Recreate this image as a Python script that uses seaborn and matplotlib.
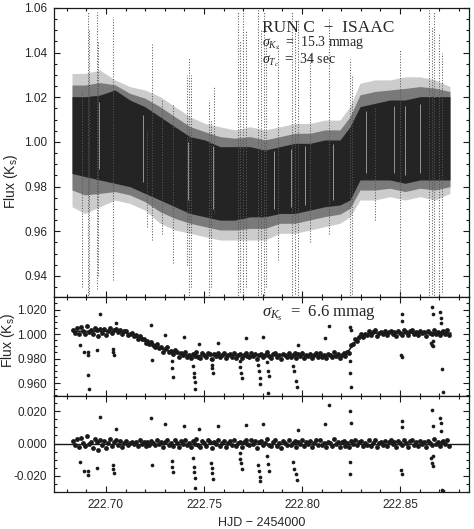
import numpy as np
import pandas as pd
import matplotlib
matplotlib.use('Agg')
import matplotlib.pyplot as plt
import seaborn as sns
from matplotlib.ticker import MultipleLocator, FormatStrFormatter

# ---------------- top panel : unbinned ISAAC photometry ----------------
# the point cloud is too dense to read point by point, so it is kept as the
# envelopes of the dense core, a shoulder and the sparse halo
top_t = [222.6827, 222.6893, 222.6969, 222.7046, 222.7122, 222.7199, 222.7276,
         222.7352, 222.7429, 222.7505, 222.7582, 222.7658, 222.7735, 222.7811,
         222.7888, 222.7964, 222.8041, 222.8117, 222.8194, 222.8245, 222.8296,
         222.8372, 222.8449, 222.8526, 222.8602, 222.8679, 222.8755]
core_hi = [1.0203, 1.0203, 1.0210, 1.0233, 1.0188, 1.0158, 1.0113, 1.0068, 1.0024,
           1.0009, 0.9979, 0.9979, 0.9979, 0.9964, 0.9979, 0.9994, 0.9994, 1.0009,
           1.0009, 1.0068, 1.0158, 1.0173, 1.0188, 1.0188, 1.0203, 1.0203, 1.0203]
core_lo = [0.9859, 0.9845, 0.9830, 0.9815, 0.9800, 0.9770, 0.9740, 0.9710, 0.9680,
           0.9665, 0.9650, 0.9650, 0.9665, 0.9665, 0.9680, 0.9680, 0.9695, 0.9710,
           0.9718, 0.9740, 0.9830, 0.9830, 0.9830, 0.9815, 0.9830, 0.9830, 0.9830]
shoulder_hi = [1.0255, 1.0255, 1.0266, 1.0256, 1.0218, 1.0196, 1.0158, 1.0113, 1.0069,
               1.0046, 1.0024, 1.0017, 1.0024, 1.0009, 1.0024, 1.0039, 1.0039, 1.0054,
               1.0054, 1.0113, 1.0211, 1.0226, 1.0233, 1.0240, 1.0248, 1.0241, 1.0226]
shoulder_lo = [0.9785, 0.9763, 0.9770, 0.9778, 0.9763, 0.9733, 0.9688, 0.9658, 0.9636,
               0.9621, 0.9606, 0.9606, 0.9613, 0.9613, 0.9636, 0.9636, 0.9651, 0.9666,
               0.9677, 0.9703, 0.9785, 0.9785, 0.9793, 0.9778, 0.9793, 0.9785, 0.9800]
halo_hi = [1.0307, 1.0307, 1.0322, 1.0278, 1.0248, 1.0233, 1.0203, 1.0158, 1.0113,
           1.0083, 1.0068, 1.0054, 1.0068, 1.0054, 1.0068, 1.0083, 1.0083, 1.0098,
           1.0098, 1.0158, 1.0263, 1.0278, 1.0278, 1.0292, 1.0292, 1.0278, 1.0248]
halo_lo = [0.9710, 0.9680, 0.9710, 0.9740, 0.9725, 0.9695, 0.9636, 0.9606, 0.9591,
           0.9576, 0.9561, 0.9561, 0.9561, 0.9561, 0.9591, 0.9591, 0.9606, 0.9621,
           0.9636, 0.9665, 0.9740, 0.9740, 0.9755, 0.9740, 0.9755, 0.9740, 0.9770]

# vertical streaks of bad frames: time, lowest and highest point
streak_t = [222.6876, 222.6909, 222.6915, 222.6955, 222.6962, 222.7037, 222.7208,
            222.7233, 222.7284, 222.7344, 222.7412, 222.7425, 222.7432, 222.7527,
            222.7537, 222.7551, 222.7672, 222.7685, 222.7700, 222.7715, 222.7775,
            222.7790, 222.7805, 222.7818, 222.7880, 222.7950, 222.7965, 222.7980,
            222.8040, 222.8136, 222.8244, 222.8254, 222.8375, 222.8502, 222.8650,
            222.8662, 222.8672, 222.8700, 222.8712]
streak_hi = [1.023, 1.058, 1.050, 1.058, 1.045, 1.056, 1.005, 1.044, 1.019, 1.017,
             1.030, 1.038, 1.030, 1.019, 1.010, 1.025, 1.058, 1.045, 1.058, 1.050,
             1.059, 1.050, 1.058, 1.045, 1.044, 1.058, 1.050, 1.055, 1.040, 1.055,
             1.037, 1.030, 1.015, 1.041, 1.059, 1.052, 1.058, 1.049, 1.040]
streak_lo = [0.935, 0.930, 0.932, 0.934, 0.940, 0.938, 0.962, 0.956, 0.959, 0.946,
             0.945, 0.930, 0.935, 0.930, 0.935, 0.968, 0.930, 0.933, 0.930, 0.935,
             0.930, 0.932, 0.930, 0.935, 0.947, 0.930, 0.932, 0.930, 0.955, 0.959,
             0.930, 0.932, 0.965, 0.930, 0.930, 0.932, 0.930, 0.930, 0.933]

# short time gaps showing as white lines through the dense band
gap_t = [222.6966, 222.7190, 222.7418, 222.7546, 222.7857, 222.7944, 222.8014,
         222.8160, 222.8327, 222.8468, 222.8526, 222.8600]
gap_lo = [0.988, 0.982, 0.974, 0.970, 0.970, 0.971, 0.972, 0.974, 0.986, 0.986,
          0.985, 0.986]
gap_hi = [1.018, 1.012, 1.000, 0.998, 0.996, 0.997, 0.998, 0.999, 1.014, 1.016,
          1.016, 1.017]

# ---------------- binned light curve and residuals ----------------
# time in units of 1e-4 d after HJD 2454222.68, flux and residual in ppt
bin_tt = [32, 42, 52, 62, 72, 82, 92, 102, 112, 122,
          132, 142, 152, 162, 172, 182, 192, 202, 212, 222,
          232, 242, 252, 262, 272, 282, 292, 302, 312, 322,
          332, 342, 352, 362, 372, 382, 392, 402, 412, 422,
          432, 442, 452, 462, 472, 482, 492, 502, 512, 522,
          532, 542, 552, 562, 572, 582, 592, 602, 612, 622,
          632, 642, 652, 662, 672, 682, 692, 702, 712, 722,
          732, 742, 752, 762, 772, 782, 792, 802, 812, 822,
          832, 842, 852, 862, 872, 882, 892, 902, 912, 922,
          932, 942, 952, 962, 972, 982, 992, 1002, 1012, 1022,
          1032, 1042, 1052, 1062, 1072, 1082, 1092, 1102, 1112, 1122,
          1132, 1142, 1152, 1162, 1172, 1182, 1192, 1202, 1212, 1222,
          1232, 1242, 1252, 1262, 1272, 1282, 1292, 1302, 1312, 1322,
          1332, 1342, 1352, 1362, 1372, 1382, 1392, 1402, 1412, 1422,
          1432, 1442, 1452, 1462, 1472, 1482, 1492, 1502, 1512, 1522,
          1532, 1542, 1552, 1562, 1572, 1582, 1592, 1602, 1612, 1622,
          1632, 1642, 1652, 1662, 1672, 1682, 1692, 1702, 1712, 1722,
          1732, 1742, 1752, 1762, 1772, 1782, 1792, 1802, 1812, 1822,
          1832, 1842, 1852, 1862, 1872, 1882, 1892, 1902, 1912, 1922,
          1932, 1942, 1952]
bin_flux = [3.7, 1.2, 5.0, 0.0, 5.7, 2.4, 0.4, 6.7, 1.7, 3.4,
            -0.3, 5.2, 3.0, -1.8, 4.2, 1.0, 4.0, -0.8, 2.7, 4.8,
            0.7, 3.2, 4.4, 1.4, 3.5, -0.2, 2.1, 2.8, -0.5, 0.3,
            0.6, -1.6, -0.9, -3.9, -1.2, -4.4, -3.9, -7.6, -5.9, -8.3,
            -6.6, -8.8, -10.9, -8.1, -11.6, -10.9, -14.3, -11.8, -10.9, -14.5,
            -14.0, -16.4, -13.3, -15.0, -18.4, -15.1, -16.9, -14.9, -18.3, -16.9,
            -19.4, -16.1, -17.5, -14.9, -18.3, -19.7, -15.8, -17.1, -18.8, -15.5,
            -16.6, -20.1, -16.3, -17.9, -15.3, -19.0, -16.9, -15.7, -19.6, -17.3,
            -16.0, -18.4, -15.1, -19.2, -17.2, -16.4, -19.8, -16.7, -15.6, -18.1,
            -18.7, -15.4, -17.7, -16.1, -20.3, -16.8, -15.9, -18.5, -17.1, -15.0,
            -18.2, -19.3, -16.5, -15.3, -18.9, -17.0, -20.0, -16.2, -17.4, -18.4,
            -15.5, -18.6, -16.9, -15.8, -19.5, -16.6, -17.8, -15.1, -19.1, -16.7,
            -18.0, -16.0, -19.7, -17.2, -15.6, -18.7, -15.4, -18.3, -16.9, -19.4,
            -16.4, -17.1, -19.0, -14.9, -18.1, -16.3, -19.5, -16.8, -15.7, -17.8,
            -14.6, -15.2, -8.9, -8.3, -4.0, -5.4, -2.0, -0.3, -2.6, 0.3,
            -0.6, 2.4, -0.6, 1.4, 3.1, -1.3, 1.2, 2.0, -0.1, 2.5,
            -0.8, 1.6, 2.8, 0.4, 1.9, -1.4, 2.3, 1.0, -0.4, 3.2,
            1.4, -1.1, 2.1, 2.9, 0.1, 1.7, -0.7, 2.6, 0.6, 1.8,
            -1.2, 2.2, 1.1, -0.3, 3.3, 0.2, 2.0, -0.9, 1.6, 2.4,
            0.4, 3.0, -0.5]
bin_resid = [1.5, -1.0, 2.8, -2.2, 3.5, 0.2, -1.8, 4.5, -0.5, 1.2,
             -2.5, 3.0, 0.8, -4.0, 2.0, -1.2, 1.8, -3.0, 0.5, 2.6,
             -1.5, 1.0, 2.2, -0.8, 1.5, -2.0, 0.6, 1.8, -1.0, 0.4,
             1.2, -0.6, 0.9, -1.4, 2.0, -0.3, 1.1, -1.8, 0.7, -0.9,
             1.6, 0.2, -1.2, 2.3, -0.5, 0.8, -2.0, 1.0, 2.4, -0.7,
             0.3, -1.6, 1.9, 0.6, -2.4, 1.3, -0.2, 2.1, -1.1, 0.5,
             -1.9, 1.4, 0.0, 2.6, -0.8, -2.2, 1.7, 0.4, -1.3, 2.0,
             0.9, -2.6, 1.2, -0.4, 2.2, -1.5, 0.6, 1.8, -2.1, 0.2,
             1.5, -0.9, 2.4, -1.7, 0.3, 1.1, -2.3, 0.8, 1.9, -0.6,
             -1.2, 2.1, -0.2, 1.4, -2.8, 0.7, 1.6, -1.0, 0.4, 2.5,
             -0.7, -1.8, 1.0, 2.2, -1.4, 0.5, -2.5, 1.3, 0.1, -0.9,
             2.0, -1.1, 0.6, 1.7, -2.0, 0.9, -0.3, 2.4, -1.6, 0.8,
             -0.5, 1.5, -2.2, 0.3, 1.9, -1.2, 2.1, -0.8, 0.6, -1.9,
             1.1, 0.4, -1.5, 2.6, -0.6, 1.2, -2.0, 0.7, 1.8, -1.3,
             0.2, -2.4, 1.6, -0.1, 2.2, -1.0, 0.9, 1.4, -1.8, 0.5,
             -0.8, 1.9, -1.4, 0.6, 2.3, -2.1, 0.4, 1.2, -0.9, 1.7,
             -1.6, 0.8, 2.0, -0.4, 1.1, -2.2, 1.5, 0.2, -1.2, 2.4,
             0.6, -1.9, 1.3, 2.1, -0.7, 0.9, -1.5, 1.8, -0.2, 1.0,
             -2.0, 1.4, 0.3, -1.1, 2.5, -0.6, 1.2, -1.7, 0.8, 1.6,
             -0.4, 2.2, -1.3]

# outlying binned points (same units)
out_tt = [66, 88, 108, 111, 110, 112, 153, 169, 236, 238, 240, 250, 432, 435,
          500, 537, 539, 541, 598, 646, 648, 650, 652, 654, 675, 738, 740, 742,
          744, 770, 882, 886, 890, 894, 916, 976, 980, 984, 988, 1000, 1022, 1026,
          1030, 1029, 1154, 1160, 1168, 1176, 1182, 1320, 1337, 1444, 1446, 1448,
          1447, 1449, 1706, 1708, 1709, 1711, 1858, 1862, 1864, 1866, 1867, 1870,
          1906, 1908, 1910, 1914, 1918]
out_flux = [-9.0, -15.0, -15.0, -17.0, -33.3, -45.0, -13.0, 16.3, -12.0, -15.0,
            -17.0, 9.4, 7.2, -21.5, -1.0, -22.3, -27.5, -34.7, -2.5, -26.4, -32.0,
            -35.0, -39.0, -45.0, -8.0, -20.0, -25.0, -28.0, -31.5, -7.0, -22.0,
            -27.0, -32.0, -36.0, -3.0, -25.0, -30.0, -36.0, -41.0, -2.0, -23.0,
            -30.0, -34.0, -48.4, -26.0, -30.0, -38.0, -43.0, -9.0, -3.0, 6.6,
            -22.0, -32.0, -43.0, 5.8, 3.0, -17.0, 16.3, -18.5, 10.7, -7.0, -9.0,
            21.8, -6.0, 16.3, -10.0, 18.0, 13.0, 9.0, -28.3, -47.4]
out_resid = [-11.2, -17.0, -17.2, -19.2, -35.5, -47.2, -15.0, 16.5, -13.0, -16.0,
             -18.5, 9.0, 15.5, -13.5, 12.0, -11.0, -14.5, -17.5, 11.0, -9.0, -14.5,
             -17.5, -21.5, -27.5, 9.0, -12.0, -15.0, -18.0, -22.0, 11.0, -6.0,
             -9.5, -12.0, -16.0, 11.5, -13.0, -17.0, -20.5, -23.5, 12.0, -8.0,
             -12.5, -17.0, -31.5, -11.5, -15.5, -19.0, -22.5, 8.5, 12.0, 24.0,
             -11.5, -19.0, -31.0, 20.0, 12.5, -16.5, 14.0, -19.0, 10.0, -9.0,
             -12.0, 21.0, -8.0, 11.0, -14.0, 16.0, 12.5, 8.0, -29.0, -29.5]

# transit model (knots)
model_tt = [32, 262, 292, 322, 352, 382, 412, 442, 472, 502, 532, 562, 592, 622,
            650, 1412, 1422, 1442, 1462, 1482, 1502, 1522, 1552, 1960]
model_ppt = [2.2, 2.2, 1.5, -0.1, -1.8, -4.1, -6.6, -9.0, -11.1, -12.8, -14.3,
             -15.6, -16.7, -17.4, -17.5, -17.5, -16.5, -12.8, -8.2, -4.4, -1.7,
             -0.2, 0.8, 0.8]

t0 = 222.68
band = pd.DataFrame({'hjd': t0 + np.array(bin_tt) * 1e-4,
                     'flux': 1 + np.array(bin_flux) / 1000.,
                     'resid': np.array(bin_resid) / 1000.})
outl = pd.DataFrame({'hjd': t0 + np.array(out_tt) * 1e-4,
                     'flux': 1 + np.array(out_flux) / 1000.,
                     'resid': np.array(out_resid) / 1000.})
model = pd.DataFrame({'hjd': t0 + np.array(model_tt) * 1e-4,
                      'flux': 1 + np.array(model_ppt) / 1000.})

sns.set_theme(style='ticks')
plt.rcParams['font.family'] = ['Liberation Sans', 'DejaVu Sans']
plt.rcParams['mathtext.fontset'] = 'custom'
plt.rcParams['mathtext.rm'] = 'Liberation Serif'
plt.rcParams['mathtext.it'] = 'Liberation Serif:italic'
plt.rcParams['mathtext.sf'] = 'Liberation Sans'

fig = plt.figure(figsize=(4.74, 5.29), dpi=100)
ax1 = fig.add_axes([0.1139, 0.4386, 0.8755, 0.5463])
ax2 = fig.add_axes([0.1139, 0.2520, 0.8755, 0.1866])
ax3 = fig.add_axes([0.1139, 0.0694, 0.8755, 0.1826])

# top panel: grey levels stand for the density of the point cloud
ax1.fill_between(top_t, halo_lo, halo_hi, color='0.8', lw=0)
ax1.fill_between(top_t, shoulder_lo, shoulder_hi, color='0.48', lw=0)
ax1.fill_between(top_t, core_lo, core_hi, color='0.14', lw=0)
ax1.vlines(gap_t, gap_lo, gap_hi, colors='white', lw=0.6, alpha=0.6)
ax1.vlines(streak_t, streak_lo, streak_hi, colors='0.35', lw=0.75,
           linestyles=(0, (1, 1.6)))
ax1.set_ylim(0.9306, 1.06)
ax1.yaxis.set_major_locator(MultipleLocator(0.02))
ax1.yaxis.set_minor_locator(MultipleLocator(0.005))
ax1.yaxis.set_major_formatter(FormatStrFormatter('%.2f'))
ax1.text(0.501, 0.918, 'RUN C  \u2212  ISAAC', transform=ax1.transAxes,
         family='Liberation Serif', fontsize=12.5)
ax1.text(0.501, 0.866, r'$\sigma_{K_s}$  =  15.3 mmag', transform=ax1.transAxes,
         family='Liberation Serif', fontsize=10)
ax1.text(0.501, 0.809, r'$\sigma_{T_c}$  =  34 sec', transform=ax1.transAxes,
         family='Liberation Serif', fontsize=10)

# middle panel
sns.lineplot(data=model, x='hjd', y='flux', ax=ax2, color='k', lw=1.2)
sns.scatterplot(data=band, x='hjd', y='flux', ax=ax2, color='k', s=12,
                linewidth=0, legend=False)
sns.scatterplot(data=outl, x='hjd', y='flux', ax=ax2, color='k', s=7,
                linewidth=0, legend=False)
ax2.set_ylim(0.9498, 1.0302)
ax2.yaxis.set_major_locator(MultipleLocator(0.02))
ax2.yaxis.set_minor_locator(MultipleLocator(0.005))
ax2.yaxis.set_major_formatter(FormatStrFormatter('%.3f'))
ax2.text(0.501, 0.795, r'$\sigma_{K_s}$  =  6.6 mmag', transform=ax2.transAxes,
         family='Liberation Serif', fontsize=12)

# bottom panel
ax3.axhline(0, color='k', lw=1)
sns.scatterplot(data=band, x='hjd', y='resid', ax=ax3, color='k', s=12,
                linewidth=0, legend=False)
sns.scatterplot(data=outl, x='hjd', y='resid', ax=ax3, color='k', s=7,
                linewidth=0, legend=False)
ax3.set_ylim(-0.0302, 0.0296)
ax3.yaxis.set_major_locator(MultipleLocator(0.02))
ax3.yaxis.set_minor_locator(MultipleLocator(0.005))
ax3.yaxis.set_major_formatter(FormatStrFormatter('%.3f'))

for ax in (ax1, ax2, ax3):
    ax.set_xlim(222.6735, 222.8852)
    ax.xaxis.set_major_locator(MultipleLocator(0.05))
    ax.xaxis.set_minor_locator(MultipleLocator(0.01))
    ax.xaxis.set_major_formatter(FormatStrFormatter('%.2f'))
    ax.tick_params(which='both', direction='in', top=True, right=True,
                   labelsize=8.5, width=0.8, color='k', pad=5)
    ax.tick_params(which='major', length=4.5)
    ax.tick_params(which='minor', length=2.2)
    for sp in ax.spines.values():
        sp.set_linewidth(0.9)
        sp.set_color('k')
    ax.set_xlabel('')
    ax.set_ylabel('')

ax1.tick_params(labelbottom=False)
ax2.tick_params(labelbottom=False)

ax1.set_ylabel(r'Flux (K$_\mathsf{s}$)', fontsize=10)
ax1.yaxis.set_label_coords(-0.082, 0.40)
ax2.set_ylabel(r'Flux (K$_\mathsf{s}$)', fontsize=10)
ax2.yaxis.set_label_coords(-0.090, 0.56)
ax3.set_xlabel('HJD \u2212 2454000', fontsize=9)

fig.savefig('out.png', dpi=100)
